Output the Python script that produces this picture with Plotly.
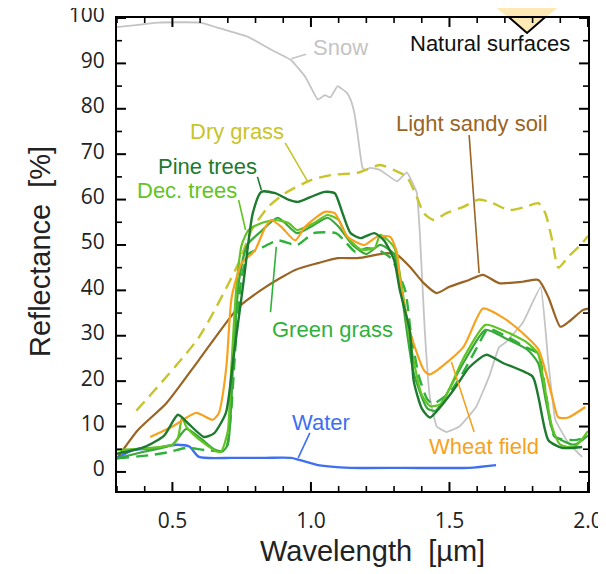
import plotly.graph_objects as go

# ---------------- data ----------------
snow_x = [0.30, 0.45, 0.60, 0.69, 0.775, 0.857, 0.929, 0.98, 1.025, 1.05, 1.07, 1.096, 1.13, 1.143, 1.157, 1.168,
          1.186, 1.196, 1.214, 1.25, 1.311, 1.346, 1.382, 1.393, 1.411, 1.429, 1.454, 1.489, 1.536, 1.596, 1.643,
          1.679, 1.704, 1.764, 1.829, 1.857, 1.882, 1.929, 1.979]
snow_y = [98, 99, 99, 97.4, 95.8, 93, 90.7, 87, 82, 83, 82.5, 85, 83.5, 82, 79, 74.6,
          67, 66.5, 67, 66.5, 64, 66, 61.5, 52.6, 31, 16.5, 10, 8.8, 10, 14.3, 21,
          27.5, 28.6, 32.8, 40.7, 24, 11.5, 6.4, 3.3]

dry_x = [0.37, 0.596, 0.739, 0.786, 0.846, 0.907, 1.0, 1.071, 1.168, 1.25, 1.30, 1.346, 1.382, 1.407, 1.443,
         1.489, 1.55, 1.607, 1.657, 1.714, 1.775, 1.821, 1.846, 1.871, 1.893, 1.929, 1.979, 2.0]
dry_y = [13.5, 29.7, 46, 53.3, 58.4, 61.4, 64.3, 65.4, 65.9, 67.6, 66.5, 65, 60.6, 57, 55.5,
         57, 58.4, 60, 59.2, 57.7, 58.4, 59.2, 57, 51, 45, 47.4, 50.4, 52]

soil_x = [0.30, 0.375, 0.479, 0.596, 0.739, 0.836, 0.943, 1.025, 1.096, 1.168, 1.275, 1.311, 1.357, 1.407,
          1.454, 1.50, 1.571, 1.621, 1.679, 1.764, 1.821, 1.857, 1.90, 1.929, 1.982, 2.0]
soil_y = [3, 9.2, 15.2, 24.7, 36.3, 40.7, 44.5, 46, 47.1, 47.1, 48.2, 47.8, 45.2, 41.6,
          39.4, 40.8, 42.3, 43.4, 41.6, 41.9, 42.3, 38.5, 32, 33, 35.7, 36]

water_x = [0.30, 0.357, 0.443, 0.514, 0.561, 0.596, 0.714, 0.836, 0.929, 1.025, 1.143, 1.336, 1.571, 1.668]
water_y = [3, 4.8, 5.3, 6, 5.6, 3.3, 3.1, 3.1, 3.1, 1.5, 0.9, 0.9, 0.9, 1.5]

pine_x = [0.30, 0.40, 0.47, 0.52, 0.56, 0.614, 0.65, 0.693, 0.72, 0.757, 0.79, 0.821, 0.871, 0.918, 0.954,
          1.0, 1.05, 1.086, 1.114, 1.143, 1.179, 1.229, 1.264, 1.30, 1.321, 1.357, 1.371, 1.40, 1.429, 1.514,
          1.571, 1.632, 1.693, 1.80, 1.821, 1.857, 1.907, 1.979]
pine_y = [4, 5.5, 8, 12.6, 10.5, 7.7, 8.5, 13, 25, 42, 57, 61.7, 61.4, 60, 59.5,
          60.6, 61.7, 61.4, 57, 52.6, 51.5, 52.6, 51, 46.7, 40, 31, 20, 14, 12, 18,
          23, 25.8, 24, 21, 16.5, 7, 5.3, 5.5]

dec_x = [0.30, 0.42, 0.50, 0.52, 0.535, 0.55, 0.59, 0.65, 0.675, 0.70, 0.71, 0.73, 0.75, 0.775, 0.82, 0.87,
         0.92, 0.95, 1.01, 1.06, 1.10, 1.13, 1.18, 1.23, 1.25, 1.30, 1.33, 1.36, 1.40, 1.43, 1.47, 1.55,
         1.63, 1.70, 1.78, 1.82, 1.84, 1.87, 1.90, 1.95, 2.0]
dec_y = [4.8, 5.3, 6, 7.5, 12, 10, 7.5, 4.8, 4.4, 9, 20, 40, 50, 53.3, 54.8, 55.5,
         54.8, 53.3, 54.8, 56.6, 55.5, 51.8, 49, 49.3, 52.2, 49.5, 40, 28, 17, 14.5, 15, 25,
         32.4, 31, 28.5, 26, 20, 10, 6, 5.5, 9]

grass2_x = [0.30, 0.40, 0.50, 0.55, 0.60, 0.65, 0.68, 0.70, 0.72, 0.74, 0.77, 0.82, 0.88, 0.95, 1.0, 1.06,
            1.10, 1.15, 1.20, 1.25, 1.30, 1.33, 1.37, 1.42, 1.45, 1.55, 1.63, 1.70, 1.78, 1.82, 1.85, 1.88,
            1.95, 2.0]
grass2_y = [3, 4.5, 6, 9.5, 7.5, 5, 4.5, 6, 25, 42, 50, 53, 56, 52.6, 54, 56,
            54, 50, 48, 50, 48, 38, 22, 14, 13.5, 24, 31.3, 29.5, 27, 24, 15, 8,
            6, 8]

grass_x = [0.30, 0.42, 0.49, 0.55, 0.62, 0.69, 0.71, 0.73, 0.75, 0.775, 0.82, 0.88, 0.95, 1.01, 1.09, 1.12,
           1.16, 1.20, 1.24, 1.29, 1.34, 1.36, 1.39, 1.42, 1.44, 1.50, 1.55, 1.60, 1.64, 1.71, 1.775, 1.82,
           1.85, 1.88, 1.95, 2.0]
grass_y = [3, 3.7, 4.4, 5.3, 4.8, 4.8, 12, 30, 43, 48, 49.3, 51, 50, 52.6, 52.6, 51,
           48.5, 49.3, 49, 47, 40, 31, 21, 16, 15, 17.5, 22, 27.5, 31.5, 29.7, 27.5, 26,
           16.5, 7.7, 7, 7.7]

wheat_x = [0.42, 0.50, 0.586, 0.646, 0.668, 0.679, 0.696, 0.714, 0.75, 0.786, 0.80, 0.836, 0.857, 0.893, 0.943,
           0.979, 1.05, 1.086, 1.132, 1.193, 1.239, 1.286, 1.311, 1.321, 1.357, 1.407, 1.429, 1.55, 1.621,
           1.693, 1.764, 1.821, 1.871, 1.893, 1.929, 1.99]
wheat_y = [7.7, 10, 13, 11.5, 13, 16, 24, 38.5, 46, 48, 49, 54, 55.5, 54, 51,
           54, 57.3, 57, 51.8, 50, 51.8, 51.8, 48.2, 42.3, 31, 22.5, 21.5, 27.5, 36,
           34, 30.6, 27, 16.5, 12, 12, 14.3]

x_ticks = [0.5, 1.0, 1.5, 2.0]
x_tick_labels = ["0.5", "1.0", "1.5", "2.0"]
y_ticks = [0, 10, 20, 30, 40, 50, 60, 70, 80, 90, 100]
x_minor_step = 0.1
y_minor_step = 5
x_range = [0.3, 2.0]
y_range = [-4.2, 100]

# ---------------- styling ----------------
FONT = "Liberation Sans, Arial, sans-serif"
C_SNOW = "#c4c4c4"
C_DRY = "#c8c42c"
C_SOIL = "#9a6424"
C_WATER = "#3d6ff0"
C_PINE = "#1d7a2f"
C_DEC = "#62c424"
C_GRASS = "#2fb23a"
C_GRASS2 = "#38a83a"
C_WHEAT = "#f6a21e"

# page body has an 8px margin: work in window pixels and shift by OFF
OFF = 8
W, H = 606, 574
PX0, PX1, PY0, PY1 = 117, 588, 18, 491          # plot area in window pixels
L, T = PX0 - OFF, PY0 - OFF
R, B = W - (PX1 - OFF), H - (PY1 - OFF)
PW, PH = PX1 - PX0, PY1 - PY0
UX = (x_range[1] - x_range[0]) / PW              # data units per pixel
UY = (y_range[1] - y_range[0]) / PH


def px2paper(px, py):
    return (px - PX0) / PW, (PY1 - py) / PH


def px2data(px, py):
    return x_range[0] + (px - PX0) * UX, y_range[0] + (PY1 - py) * UY


fig = go.Figure()


def add(x, y, color, width=2.2, dash=None, smoothing=0.6):
    fig.add_trace(go.Scatter(x=x, y=y, mode="lines",
                             line=dict(color=color, width=width, dash=dash, shape="spline", smoothing=smoothing),
                             hoverinfo="skip", showlegend=False))


add(snow_x, snow_y, C_SNOW, 1.8, smoothing=0.3)
add(soil_x, soil_y, C_SOIL, 2.2)
add(water_x, water_y, C_WATER, 2.4)
add(dry_x, dry_y, C_DRY, 2.4, dash="12px,7px")
add(grass_x, grass_y, C_GRASS, 2.4, dash="12px,7px")
add(grass2_x, grass2_y, C_GRASS2, 2.2)
add(dec_x, dec_y, C_DEC, 2.2)
add(wheat_x, wheat_y, C_WHEAT, 2.2)
add(pine_x, pine_y, C_PINE, 2.4)

# ---------------- inside tick marks on all four sides (built from the tick lists) ----------------
def frange(start, stop, step):
    vals, k = [], 0
    while True:
        v = round(start + k * step, 6)
        if v > stop + 1e-9:
            break
        vals.append(v)
        k += 1
    return vals


x_minor = [v for v in frange(0.3, x_range[1], x_minor_step) if all(abs(v - t) > 1e-6 for t in x_ticks)]
y_minor = [v for v in frange(0, y_range[1], y_minor_step) if all(abs(v - t) > 1e-6 for t in y_ticks)]


def tick_trace(xv, yv, lenpx, width):
    tx, ty = [], []
    for v in xv:
        tx += [v, v, None, v, v, None]
        ty += [y_range[0], y_range[0] + lenpx * UY, None, y_range[1], y_range[1] - lenpx * UY, None]
    for v in yv:
        ty += [v, v, None, v, v, None]
        tx += [x_range[0], x_range[0] + lenpx * UX, None, x_range[1], x_range[1] - lenpx * UX, None]
    fig.add_trace(go.Scatter(x=tx, y=ty, mode="lines", line=dict(color="black", width=width),
                             hoverinfo="skip", showlegend=False, connectgaps=False))


tick_trace(x_ticks, y_ticks, 9, 2)
tick_trace(x_minor, y_minor, 5, 1.6)

# ---------------- labels with leader lines ----------------
labels = [
    ("Snow", 340, 47, C_SNOW, (0.929, 91.0), (0.982, 92.0)),
    ("Dry grass", 237, 132, C_DRY, (0.907, 72.5), (0.989, 63.9)),
    ("Pine trees", 207, 166, C_PINE, (0.807, 65.0), (0.821, 62.1)),
    ("Dec. trees", 187, 190, C_DEC, (0.739, 59.9), (0.764, 53.3)),
    ("Light sandy soil", 472, 124, C_SOIL, (1.571, 74.2), (1.607, 43.8)),
    ("Green grass", 332, 329, C_GRASS, (0.854, 35.2), (0.875, 49.6)),
    ("Water", 321, 422, C_WATER, (0.996, 8.6), (0.954, 3.1)),
    ("Wheat field", 484, 446, C_WHEAT, (1.507, 24.2), (1.589, 8.8)),
]

# callout diamond at top right: fill as a shape below, outline as an unclipped line on top
diamond_px = [(487, -2), (527, 33), (567, -2)]
pts = [px2paper(487, 0), px2paper(527, 33), px2paper(567, 0), px2paper(527, -33)]
path = "M {} {} L {} {} L {} {} L {} {} Z".format(*[v for p in pts for v in p])
shapes = [dict(type="path", xref="paper", yref="paper", path=path,
               fillcolor="#fde9b6", line=dict(color="#fde9b6", width=0), layer="below")]
dpts = [px2data(px, py) for px, py in diamond_px]
fig.add_trace(go.Scatter(x=[p[0] for p in dpts], y=[p[1] for p in dpts], mode="lines",
                         line=dict(color="black", width=2), cliponaxis=False,
                         hoverinfo="skip", showlegend=False))

annotations = []
for text, px, py, col, p0, p1 in labels:
    xp, yp = px2paper(px, py)
    annotations.append(dict(text=text, x=xp, y=yp, xref="paper", yref="paper", showarrow=False,
                            font=dict(family=FONT, size=22, color=col), xanchor="center", yanchor="middle"))
    shapes.append(dict(type="line", xref="x", yref="y", x0=p0[0], y0=p0[1], x1=p1[0], y1=p1[1],
                       line=dict(color=col, width=1.6)))

xp, yp = px2paper(490, 44)
annotations.append(dict(text="Natural surfaces", x=xp, y=yp, xref="paper", yref="paper", showarrow=False,
                        font=dict(family=FONT, size=22, color="#111111"), xanchor="center", yanchor="middle"))

# axis titles
xp, yp = px2paper(372, 551)
annotations.append(dict(text="Wavelength\u00a0\u00a0[µm]", x=xp, y=yp, xref="paper", yref="paper",
                        showarrow=False, font=dict(family=FONT, size=29, color="#222222"),
                        xanchor="center", yanchor="middle"))
xp, yp = px2paper(40, 252)
annotations.append(dict(text="Reflectance\u00a0\u00a0[%]", x=xp, y=yp, xref="paper", yref="paper",
                        showarrow=False, textangle=-90, font=dict(family=FONT, size=29, color="#222222"),
                        xanchor="center", yanchor="middle"))

fig.update_layout(
    template="none",
    width=W, height=H,
    margin=dict(l=L, r=R, t=T, b=B, autoexpand=False),
    paper_bgcolor="white", plot_bgcolor="rgba(0,0,0,0)",
    xaxis=dict(range=x_range, tickvals=x_ticks, ticktext=x_tick_labels, showline=True, mirror=True,
               linecolor="black", linewidth=2, ticks="", showgrid=False, zeroline=False,
               ticklabeloverflow="allow", ticklabelstandoff=10,
               tickfont=dict(size=21, color="#222222")),
    yaxis=dict(range=y_range, tickvals=y_ticks, showline=True, mirror=True,
               linecolor="black", linewidth=2, ticks="", showgrid=False, zeroline=False,
               ticklabeloverflow="allow", ticklabelshift=-3, ticklabelstandoff=6,
               tickfont=dict(size=21, color="#222222")),
    shapes=shapes,
    annotations=annotations,
)

fig.write_html("out.html")
